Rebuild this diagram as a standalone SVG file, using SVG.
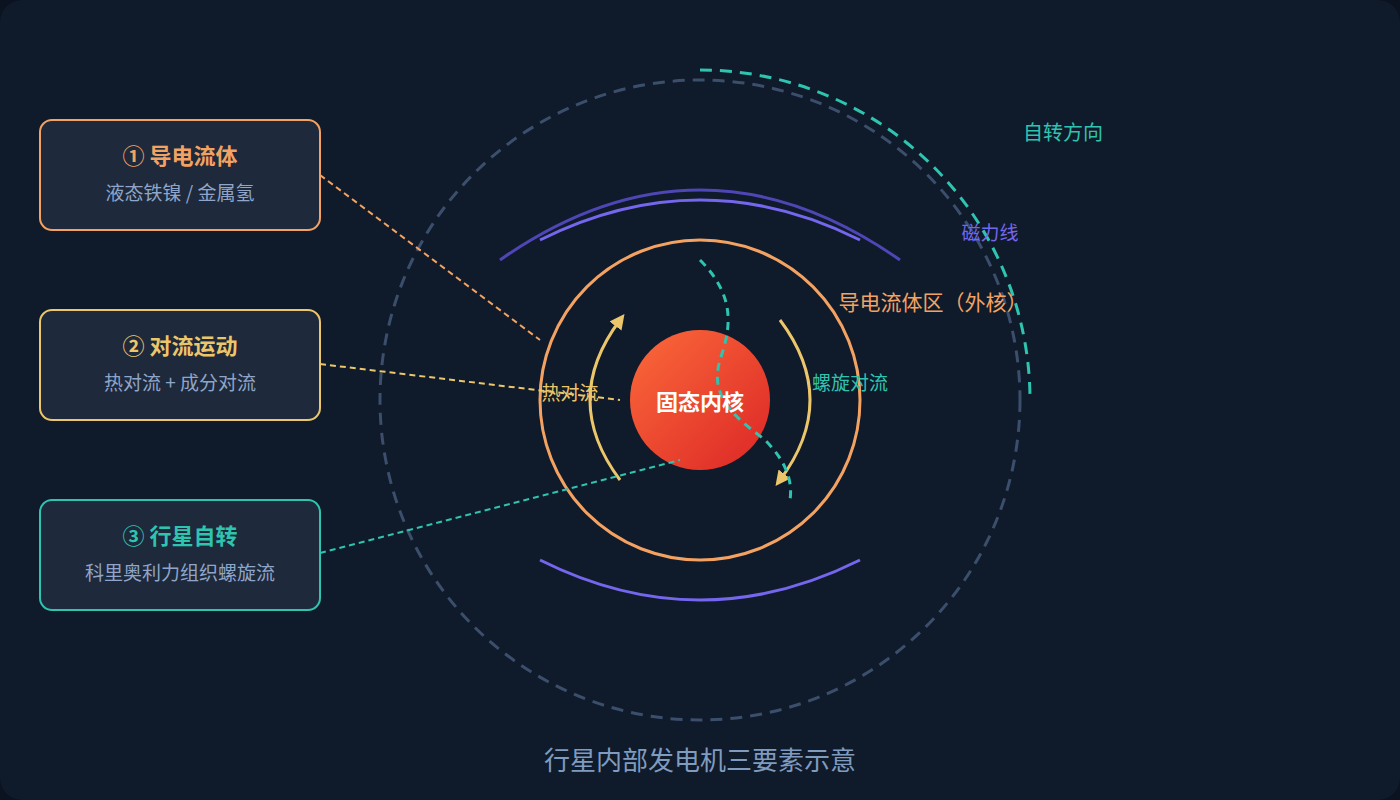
<svg xmlns="http://www.w3.org/2000/svg" width="1400" height="800" viewBox="0 0 1400 800">
<defs>
<linearGradient id="core" x1="0" y1="0" x2="1" y2="1"><stop offset="0" stop-color="#fb6a3a"/><stop offset="1" stop-color="#dc2626"/></linearGradient>
<marker id="ah" viewBox="0 0 10 10" refX="5" refY="5" markerWidth="5" markerHeight="5" orient="auto"><path d="M0,0L10,5L0,10z" fill="#ecc66a"/></marker>
<style>
text{font-family:"Noto Sans CJK SC","Noto Sans",sans-serif;text-anchor:middle}
.box{fill:#1e293b;stroke-width:2}
.t{font-size:22px;font-weight:bold}
.s{font-size:19px;fill:#8fa5c9}
</style>
</defs>
<rect width="1400" height="800" fill="#0b1320"/>
<rect width="1400" height="800" rx="22" fill="#0f1a2a"/>
<g id="planet">
<circle cx="700" cy="400" r="320" fill="none" stroke="#3b4e6b" stroke-width="3" stroke-dasharray="12 8"/>
<path d="M700,70 A330,330 0 0 1 1030,398" fill="none" stroke="#2ec4b0" stroke-width="3" stroke-dasharray="12 8"/>
<path d="M500,260 Q700,120 900,260" fill="none" stroke="#4f46b5" stroke-width="3"/>
<path d="M540,240 Q700,160 860,240" fill="none" stroke="#7467ee" stroke-width="3"/>
<path d="M540,560 Q700,640 860,560" fill="none" stroke="#7467ee" stroke-width="3"/>
<circle cx="700" cy="400" r="160" fill="none" stroke="#f4a261" stroke-width="3"/>
<circle cx="700" cy="400" r="70" fill="url(#core)"/>
<path d="M620,480 Q560,400 620,320" fill="none" stroke="#ecc66a" stroke-width="3" marker-end="url(#ah)"/>
<path d="M780,320 Q840,400 780,480" fill="none" stroke="#ecc66a" stroke-width="3" marker-end="url(#ah)"/>
<path d="M700,260 C740,300 728,335 720,360 C708,400 740,420 765,440 C785,460 793,480 790,500" fill="none" stroke="#2ec4b0" stroke-width="3" stroke-dasharray="8 6"/>
<text x="700" y="410" font-size="22" font-weight="bold" fill="#fff">固态内核</text>
<text x="1063" y="140" font-size="20" fill="#2ec4b0">自转方向</text>
<text x="990" y="240" font-size="19" fill="#7467ee">磁力线</text>
<text x="933" y="310" font-size="21" fill="#f4a261">导电流体区（外核）</text>
<text x="570" y="400" font-size="19" fill="#ecc66a">热对流</text>
<text x="850" y="390" font-size="19" fill="#2ec4b0">螺旋对流</text>
</g>
<g id="connectors" fill="none" stroke-width="2" stroke-dasharray="6 4">
<path d="M320,175 L540,340" stroke="#f4a261"/>
<path d="M320,364 L620,400" stroke="#ecc66a"/>
<path d="M320,553 L680,460" stroke="#2ec4b0"/>
</g>
<g id="n1"><rect class="box" x="40" y="120" width="280" height="110" rx="12" stroke="#f4a261"/>
<text class="t" x="180" y="164" fill="#f4a261">① 导电流体</text><text class="s" x="180" y="200">液态铁镍 / 金属氢</text></g>
<g id="n2"><rect class="box" x="40" y="310" width="280" height="110" rx="12" stroke="#ecc66a"/>
<text class="t" x="180" y="354" fill="#ecc66a">② 对流运动</text><text class="s" x="180" y="390">热对流 + 成分对流</text></g>
<g id="n3"><rect class="box" x="40" y="500" width="280" height="110" rx="12" stroke="#2ec4b0"/>
<text class="t" x="180" y="544" fill="#2ec4b0">③ 行星自转</text><text class="s" x="180" y="580">科里奥利力组织螺旋流</text></g>
<text x="700" y="770" font-size="26" fill="#7f9cc0">行星内部发电机三要素示意</text>
</svg>
